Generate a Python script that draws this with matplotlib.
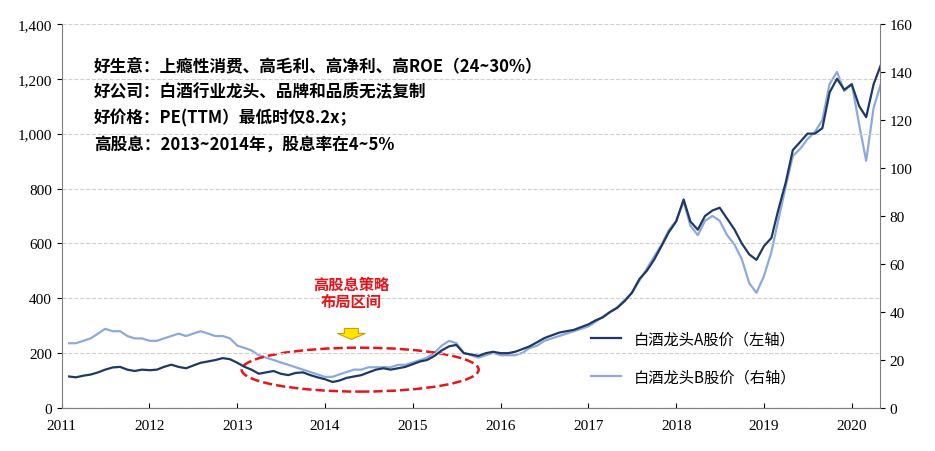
import matplotlib
matplotlib.use("Agg")
import matplotlib.pyplot as plt
import numpy as np
import pandas as pd
from matplotlib.patches import Ellipse, FancyArrow

plt.rcParams['font.family'] = ['Noto Sans CJK SC', 'DejaVu Sans']

dates = pd.date_range("2011-01-15", periods=112, freq="MS")
dec = dates.year + (dates.dayofyear - 1) / 365.25

a_vals = [
    115, 112, 118, 122, 130, 140, 148, 150, 140, 135, 140, 138,   # 2011
    140, 150, 158, 150, 145, 155, 165, 170, 175, 182, 178, 165,   # 2012
    150, 140, 125, 130, 135, 125, 120, 128, 130, 120, 112, 105,   # 2013
    95, 100, 110, 115, 120, 130, 140, 145, 140, 145, 150, 160,    # 2014
    170, 175, 190, 210, 225, 230, 200, 195, 190, 200, 205, 200,   # 2015
    200, 205, 215, 225, 240, 255, 265, 275, 280, 285, 295, 305,   # 2016
    320, 330, 350, 365, 390, 420, 470, 500, 540, 590, 640, 680,   # 2017
    760, 680, 650, 700, 720, 730, 690, 650, 600, 560, 540, 590,   # 2018
    620, 720, 820, 940, 970, 1000, 1000, 1020, 1150, 1200, 1160, 1180,  # 2019
    1100, 1060, 1180, 1250                                        # 2020
]
b_vals = [
    27, 27, 28, 29, 31, 33, 32, 32, 30, 29, 29, 28,   # 2011
    28, 29, 30, 31, 30, 31, 32, 31, 30, 30, 29, 26,   # 2012
    25, 24, 22, 21, 20, 19, 18, 17, 16, 15, 14, 13,   # 2013
    13, 14, 15, 16, 16, 17, 17, 17, 17, 18, 18, 19,   # 2014
    20, 21, 23, 26, 28, 27, 23, 22, 21, 22, 23, 22,   # 2015
    22, 22, 23, 25, 26, 28, 29, 30, 31, 32, 33, 34,   # 2016
    36, 38, 40, 42, 45, 48, 53, 58, 63, 68, 74, 78,   # 2017
    86, 76, 72, 78, 80, 78, 72, 68, 62, 52, 48, 55,   # 2018
    65, 78, 92, 105, 108, 112, 115, 120, 135, 140, 132, 135,  # 2019
    118, 103, 125, 135                                # 2020
]

fig = plt.figure(figsize=(9.35, 4.52), dpi=100)
ax = fig.add_axes([0.066, 0.095, 0.875, 0.85])
ax2 = ax.twinx()
ax.set_zorder(ax2.get_zorder() + 1)
ax.patch.set_visible(False)

ax2.plot(dec, b_vals, color="#8EA9DB", lw=1.6, label="白酒龙头B股价（右轴）")
ax.plot(dec, a_vals, color="#1F3864", lw=1.6, label="白酒龙头A股价（左轴）")

ax.set_xlim(2011, 2020.32)
ax.set_ylim(0, 1400)
ax2.set_ylim(0, 160)
ax.set_yticks(range(0, 1401, 200))
ax.set_yticklabels([f"{v:,}" for v in range(0, 1401, 200)], family="Liberation Serif", fontsize=11)
ax2.set_yticks(range(0, 161, 20))
ax2.set_yticklabels([str(v) for v in range(0, 161, 20)], family="Liberation Serif", fontsize=11)
ax.set_xticks(range(2011, 2021))
ax.set_xticklabels([str(v) for v in range(2011, 2021)], family="Liberation Serif", fontsize=11)
ax.tick_params(axis="x", direction="in", pad=8)
ax.tick_params(axis="y", direction="out")
ax.grid(axis="y", color="#D0D0D0", ls="--", lw=0.8)
for s in ["top", "right"]:
    ax.spines[s].set_visible(False)
for s in ["top", "left"]:
    ax2.spines[s].set_visible(False)
for a in (ax, ax2):
    for s in ("bottom", "left", "right"):
        a.spines[s].set_color("#808080")

lines = ["好生意：上瘾性消费、高毛利、高净利、高ROE（24~30%）",
         "好公司：白酒行业龙头、品牌和品质无法复制",
         "好价格：PE(TTM）最低时仅8.2x；",
         "高股息：2013~2014年，股息率在4~5%"]
for i, t in enumerate(lines):
    ax.text(2011.37, 1250 - i * 95, t, fontsize=12, fontweight="bold", va="center")

ax.text(2014.3, 420, "高股息策略\n布局区间", color="#E8141B", fontsize=11, fontweight="bold",
        ha="center", va="center", linespacing=1.1)
ax.add_patch(FancyArrow(2014.3, 290, 0, -40, width=0.16, head_width=0.32, head_length=22,
                        length_includes_head=True, fc="#FFE500", ec="#C8A000", lw=0.8))
ax.add_patch(Ellipse((2014.4, 140), 2.7, 160, fill=False, ec="#E8141B", ls="--", lw=1.8))

h1, l1 = ax.get_legend_handles_labels()
h2, l2 = ax2.get_legend_handles_labels()
ax.legend(h1 + h2, l1 + l2, loc="center left", bbox_to_anchor=(0.63, 0.13), frameon=False,
          fontsize=11, labelspacing=1.4, handlelength=2)

fig.savefig("out.png")
